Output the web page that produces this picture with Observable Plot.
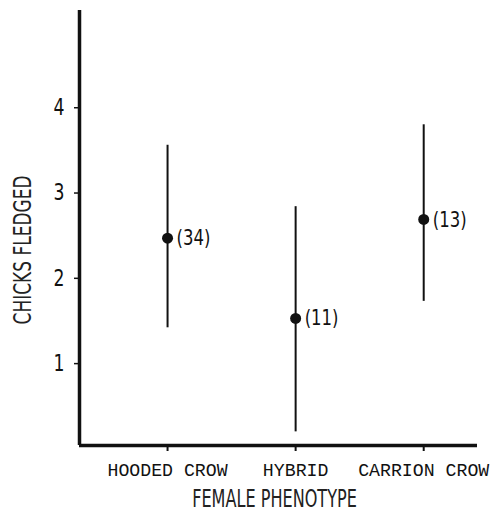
<!DOCTYPE html>
<html>
<head>
<meta charset="utf-8">
<script src="https://cdn.jsdelivr.net/npm/d3@7"></script>
<script src="https://cdn.jsdelivr.net/npm/@observablehq/plot@0.6"></script>
<style>
  html, body { margin: 0; padding: 0; background: #fff; }
</style>
</head>
<body>
<div id="chart"></div>
<script>
const categories = ["HOODED CROW", "HYBRID", "CARRION CROW"];
const means = [2.47, 1.53, 2.69];
const lows = [1.42, 0.20, 1.73];
const highs = [3.56, 2.84, 3.80];
const counts = ["(34)", "(11)", "(13)"];
const yTicks = [1, 2, 3, 4];

const data = categories.map((c, i) => ({i, c, mean: means[i], lo: lows[i], hi: highs[i], n: counts[i]}));

const xMin = -0.6875, xMax = 2.42;
const yMin = 0.04, yMax = 5.14;
const sans = "'DejaVu Sans', sans-serif";
const mono = "'Liberation Mono', 'DejaVu Sans Mono', monospace";

const chart = Plot.plot({
  width: 499,
  height: 515,
  marginTop: 10,
  marginBottom: 70,
  marginLeft: 79,
  marginRight: 22,
  style: {background: "#fff", color: "#111"},
  x: {type: "linear", domain: [xMin, xMax], axis: null},
  y: {domain: [yMin, yMax], axis: null},
  marks: [
    Plot.axisY({ticks: yTicks, tickSize: 5, tickPadding: 10, tickFormat: d => String(d), fontSize: 23, fontFamily: sans, label: null, strokeWidth: 1.5, className: "cond-num"}),
    Plot.axisX({ticks: [0, 1, 2], tickSize: 6, tickPadding: 12, tickFormat: d => categories[d], fontSize: 17.5, fontFamily: mono, label: null, strokeWidth: 2, className: "cond-mono"}),
    Plot.ruleX([xMin], {stroke: "#111", strokeWidth: 3.5}),
    Plot.ruleY([yMin], {stroke: "#111", strokeWidth: 3.5}),
    Plot.ruleX(data, {x: "i", y1: "lo", y2: "hi", stroke: "#111", strokeWidth: 2}),
    Plot.dot(data, {x: "i", y: "mean", r: 5.5, fill: "#111", stroke: null}),
    Plot.text(data, {x: "i", y: "mean", text: "n", dx: 9, textAnchor: "start", fontSize: 22, fontFamily: sans, fill: "#111", className: "cond-num"}),
    Plot.text(["FEMALE PHENOTYPE"], {frameAnchor: "bottom", dx: -4, dy: 61, fontSize: 24, fontFamily: sans, fill: "#222", className: "cond-label"}),
    Plot.text(["CHICKS FLEDGED"], {frameAnchor: "left", textAnchor: "middle", rotate: -90, dx: -57, dy: 22, fontSize: 25, fontFamily: sans, fill: "#222", className: "cond-label2"})
  ]
});
document.getElementById("chart").appendChild(chart);

// condense the glyphs to mimic the narrow lettering of the original
function condense(selector, factor) {
  chart.querySelectorAll(selector + " text").forEach(t => {
    const w = t.getComputedTextLength();
    if (w > 0) {
      t.setAttribute("textLength", w * factor);
      t.setAttribute("lengthAdjust", "spacingAndGlyphs");
    }
  });
}
condense(".cond-label", 0.67);
condense(".cond-label2", 0.68);
condense(".cond-num", 0.75);
condense(".cond-mono", 1.04);
</script>
</body>
</html>
